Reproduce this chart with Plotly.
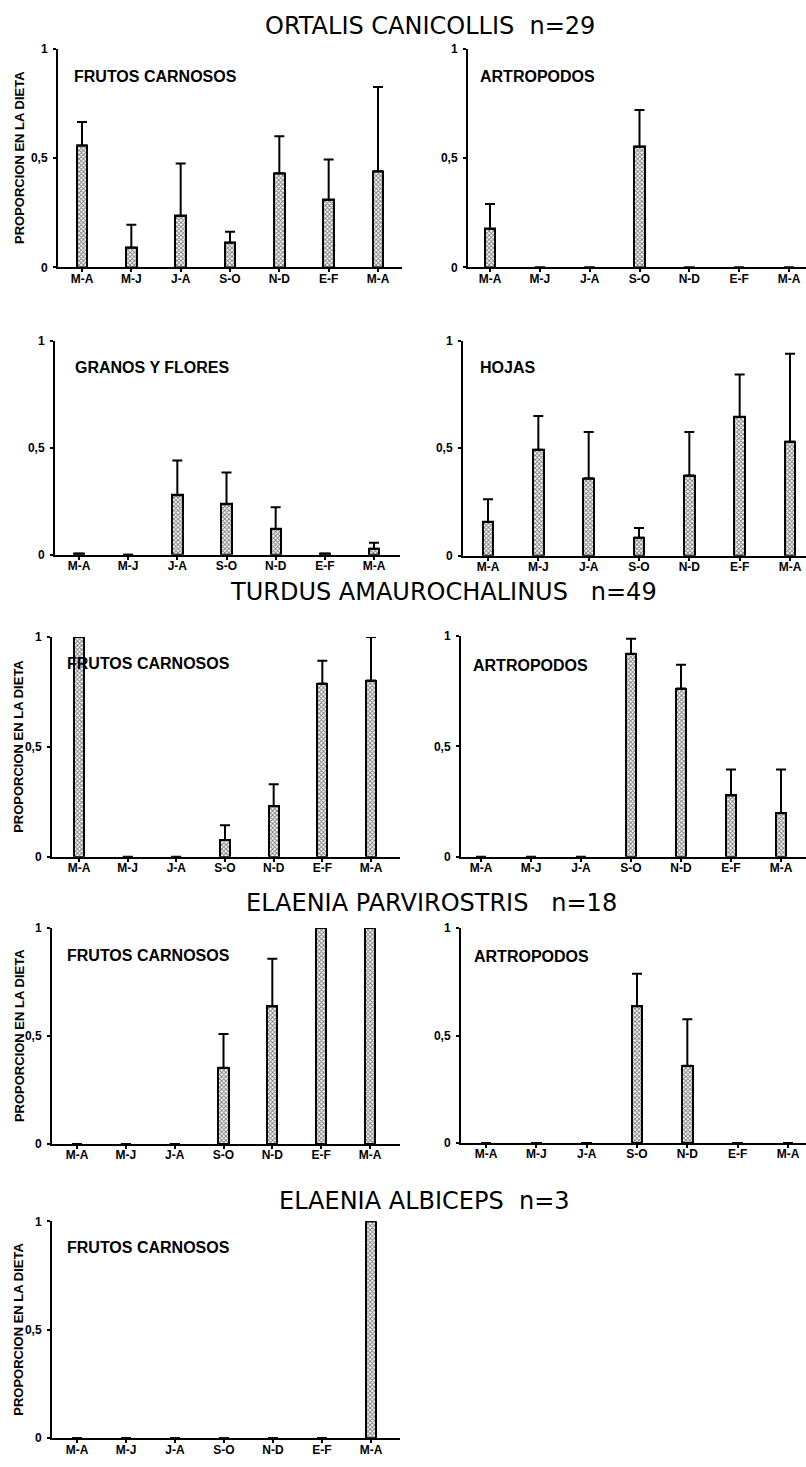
import plotly.graph_objects as go

# ---------------- data ----------------
months = ["M-A", "M-J", "J-A", "S-O", "N-D", "E-F", "M-A"]
y_ticktext = ["0", "0,5", "1"]
y_tickvals = [0, 0.5, 1]

ortalis_frutos = [0.557, 0.09, 0.235, 0.113, 0.43, 0.308, 0.44]
ortalis_frutos_err = [0.108, 0.105, 0.24, 0.05, 0.17, 0.185, 0.384]
ortalis_artro = [0.176, 0, 0, 0.552, 0, 0, 0]
ortalis_artro_err = [0.114, 0, 0, 0.168, 0, 0, 0]
ortalis_granos = [0.006, 0, 0.278, 0.236, 0.12, 0.006, 0.028]
ortalis_granos_err = [0, 0, 0.162, 0.148, 0.102, 0, 0.028]
ortalis_hojas = [0.157, 0.493, 0.36, 0.083, 0.373, 0.645, 0.53]
ortalis_hojas_err = [0.106, 0.157, 0.216, 0.046, 0.203, 0.198, 0.41]
turdus_frutos = [1.0, 0, 0, 0.077, 0.23, 0.788, 0.802]
turdus_frutos_err = [0, 0, 0, 0.067, 0.10, 0.104, 0.198]
turdus_artro = [0, 0, 0, 0.919, 0.762, 0.278, 0.197]
turdus_artro_err = [0, 0, 0, 0.068, 0.108, 0.117, 0.198]
parvi_frutos = [0, 0, 0, 0.353, 0.637, 1.0, 1.0]
parvi_frutos_err = [0, 0, 0, 0.157, 0.221, 0, 0]
parvi_artro = [0, 0, 0, 0.636, 0.36, 0, 0]
parvi_artro_err = [0, 0, 0, 0.152, 0.216, 0, 0]
albiceps_frutos = [0, 0, 0, 0, 0, 0, 1.0]
albiceps_frutos_err = [0, 0, 0, 0, 0, 0, 0]

species_titles = ["ORTALIS CANICOLLIS\u00a0\u00a0n=29",
                  "TURDUS AMAUROCHALINUS\u00a0\u00a0\u00a0n=49",
                  "ELAENIA PARVIROSTRIS\u00a0\u00a0\u00a0n=18",
                  "ELAENIA ALBICEPS\u00a0\u00a0n=3"]
panel_labels = ["FRUTOS CARNOSOS", "ARTROPODOS", "GRANOS Y FLORES", "HOJAS",
                "FRUTOS CARNOSOS", "ARTROPODOS", "FRUTOS CARNOSOS", "ARTROPODOS",
                "FRUTOS CARNOSOS"]
ytitle = "PROPORCION EN LA DIETA"

series = [(ortalis_frutos, ortalis_frutos_err), (ortalis_artro, ortalis_artro_err),
          (ortalis_granos, ortalis_granos_err), (ortalis_hojas, ortalis_hojas_err),
          (turdus_frutos, turdus_frutos_err), (turdus_artro, turdus_artro_err),
          (parvi_frutos, parvi_frutos_err), (parvi_artro, parvi_artro_err),
          (albiceps_frutos, albiceps_frutos_err)]

# ---------------- layout geometry (pixels) ----------------
W, H = 806, 1467
# axis_x, first_cat_x, last_cat_x, right_x, y_at_1, y_at_0
geom = [
    (58, 82, 378, 402, 42, 263),
    (468, 490, 789, 806, 42, 263),
    (55, 79, 374, 400, 337, 553),
    (463, 488, 790, 806, 337, 554),
    (52, 79, 371, 400, 636, 858),
    (461, 481, 781, 806, 635, 858),
    (52, 77, 370, 400, 930, 1148),
    (461, 486, 788, 806, 930, 1147),
    (52, 77, 371, 400, 1226, 1445),
]
label_pos = [(72, 70), (478, 70), (73, 364), (478, 364), (65, 663), (471, 665),
             (65, 958), (472, 959), (65, 1252)]
title_pos = [(430, 19), (443, 591), (432, 905), (424, 1205)]
ytitle_panels = [0, 4, 6, 8]

tick_font = dict(family="Liberation Sans", size=12, color="black", weight=700)

fig = go.Figure()
layout_axes = {}
annotations = []

for i, ((vals, errs), g) in enumerate(zip(series, geom)):
    ax, c0, c6, rx, y1, y0 = g
    s = (c6 - c0) / 6.0
    r0 = -(c0 - ax) / s
    r1 = 6 + (rx - c6) / s
    n = "" if i == 0 else str(i + 1)
    xa, ya = "x" + n, "y" + n
    fig.add_trace(go.Bar(
        x=list(range(len(months))), y=vals, xaxis=xa, yaxis=ya, width=0.21,
        marker=dict(color="white", line=dict(color="black", width=2),
                    pattern=dict(shape="x", fgcolor="black", bgcolor="white",
                                 size=3, solidity=0.55)),
        error_y=dict(type="data", symmetric=False,
                     array=[e if e > 0 else None for e in errs],
                     arrayminus=[0] * len(errs),
                     color="black", thickness=2, width=5),
        showlegend=False, hoverinfo="skip"))
    layout_axes["xaxis" + n] = dict(
        domain=[ax / W, rx / W], range=[r0, r1], anchor=ya,
        tickmode="array", tickvals=list(range(len(months))), ticktext=months,
        showgrid=False, zeroline=False, showline=True, linecolor="black", linewidth=2,
        ticks="outside", ticklen=3, tickwidth=1.5, tickcolor="black",
        tickfont=tick_font, ticklabelstandoff=-4, fixedrange=True)
    layout_axes["yaxis" + n] = dict(
        domain=[1 - y0 / H, 1 - y1 / H], range=[0, 1], anchor=xa,
        tickmode="array", tickvals=y_tickvals, ticktext=y_ticktext,
        showgrid=False, zeroline=False, showline=True, linecolor="black", linewidth=2,
        ticks="outside", ticklen=3, tickwidth=1.5, tickcolor="black",
        tickfont=tick_font, ticklabelstandoff=3, fixedrange=True)
    lx, ly = label_pos[i]
    annotations.append(dict(
        text=panel_labels[i], x=lx / W, y=1 - ly / H, xref="paper", yref="paper",
        xanchor="left", yanchor="middle", showarrow=False,
        font=dict(family="Liberation Sans", size=16, color="black", weight=700)))
    if i in ytitle_panels:
        annotations.append(dict(
            text=ytitle, x=19 / W, y=1 - ((y0 + y1) / 2) / H, xref="paper", yref="paper",
            xanchor="center", yanchor="middle", textangle=-90, showarrow=False,
            font=dict(family="Liberation Sans", size=13, color="black", weight=700)))

for t, (tx, ty) in zip(species_titles, title_pos):
    annotations.append(dict(
        text=t, x=tx / W, y=1 - ty / H, xref="paper", yref="paper",
        xanchor="center", yanchor="middle", showarrow=False,
        font=dict(family="DejaVu Sans", size=24, color="black")))

fig.update_layout(
    width=W, height=H, margin=dict(l=0, r=0, t=0, b=0),
    paper_bgcolor="white", plot_bgcolor="white", showlegend=False,
    bargap=0, annotations=annotations, **layout_axes)

fig.write_html("out.html", config={"displayModeBar": False})
